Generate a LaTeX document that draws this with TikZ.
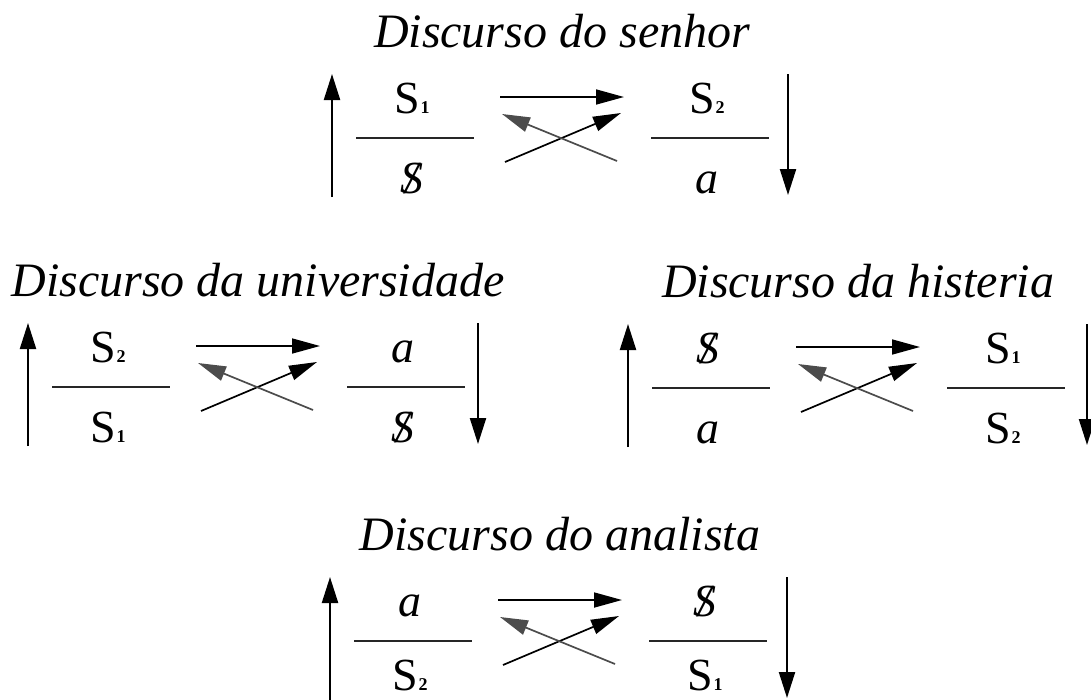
\documentclass[tikz,border=0pt]{standalone}
\usepackage{fontspec}
\setmainfont{Liberation Serif}
\usetikzlibrary{arrows.meta}

\newcommand{\Ssub}[1]{S\kern0.5pt{\fontsize{18}{18}\selectfont\bfseries #1}}
\newcommand{\Sbar}{{\itshape\ooalign{S\cr\hidewidth/\hidewidth\cr}}}
\newcommand{\aobj}{\textit{a}}

% #1 name, #2 x0, #3 ybar, #4 title, #5 num1, #6 den1, #7 num2, #8 den2, #9 right arrow offset
\newcommand{\lacanfig}[9]{%
  \begin{scope}[shift={(#2,#3)}]
    \node[titletext] (#1-title) at (230,-91) {#4};
    \node[term] (#1-n1) at (80,-25) {#5};
    \node[term] (#1-d1) at (80,\denbase) {#6};
    \node[term] (#1-n2) at (375,-25) {#7};
    \node[term] (#1-d2) at (375,\denbase) {#8};
    \coordinate (#1-b1l) at (24,0);
    \coordinate (#1-b1r) at (142,0);
    \coordinate (#1-b2l) at (319,0);
    \coordinate (#1-b2r) at (437,0);
    \draw[fracbar] (#1-b1l) -- (#1-b1r);
    \draw[fracbar] (#1-b2l) -- (#1-b2r);
    \coordinate (#1-lb) at (0,59);
    \coordinate (#1-lt) at (0,-64);
    \coordinate (#1-rt) at (#9,-64);
    \coordinate (#1-rb) at (#9,57);
    \draw[vertarrow] (#1-lb) -- (#1-lt);
    \draw[vertarrow] (#1-rt) -- (#1-rb);
    \coordinate (#1-hs) at (168,-41);
    \coordinate (#1-he) at (292,-41);
    \coordinate (#1-as) at (173,24);
    \coordinate (#1-ae) at (289,-25);
    \coordinate (#1-bs) at (285,23);
    \coordinate (#1-be) at (170,-24);
    \draw[crossarrow] (#1-hs) -- (#1-he);
    \draw[crossarrow] (#1-as) -- (#1-ae);
    \draw[crossarrow, draw=black!70, fill=black] (#1-bs) -- (#1-be);
  \end{scope}%
}

\begin{document}
\begin{tikzpicture}[x=1pt,y=-1pt,
  titletext/.style={font=\fontsize{48}{50}\selectfont\itshape, inner sep=0pt, anchor=base},
  term/.style={font=\fontsize{46}{48}\selectfont, inner sep=0pt, anchor=base},
  fracbar/.style={line width=2.4pt, draw=black!85},
  vertarrow/.style={line width=2.2pt, -{Triangle[length=26pt,width=16pt]}},
  crossarrow/.style={line width=1.7pt, -{Triangle[length=28pt,width=15pt]}}]
  \useasboundingbox (0,0) rectangle (1091,699);
  \def\denbase{55}
  \lacanfig{senhor}{332}{138}{Discurso do senhor}{\Ssub{1}}{\Sbar}{\Ssub{2}}{\aobj}{456}
  \lacanfig{univ}{28}{387}{Discurso da universidade}{\Ssub{2}}{\Ssub{1}}{\aobj}{\Sbar}{450}
  \lacanfig{hist}{628}{388}{Discurso da histeria}{\Sbar}{\aobj}{\Ssub{1}}{\Ssub{2}}{459}
  \def\denbase{49}
  \lacanfig{anal}{330}{641}{Discurso do analista}{\aobj}{\Ssub{2}}{\Sbar}{\Ssub{1}}{457}
\end{tikzpicture}
\end{document}
